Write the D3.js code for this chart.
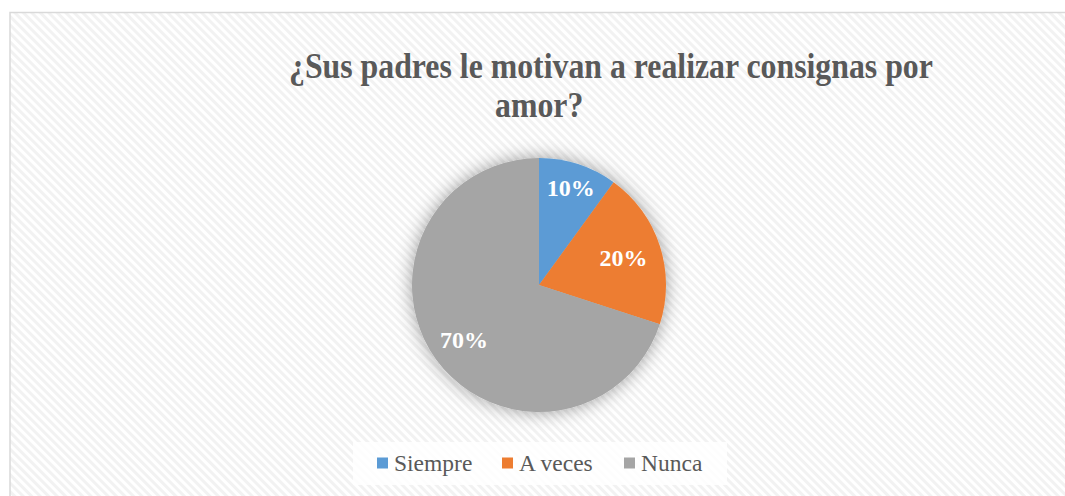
<!DOCTYPE html>
<html>
<head>
<meta charset="utf-8">
<script src="https://cdn.jsdelivr.net/npm/d3@7"></script>
<style>
  html, body { margin: 0; padding: 0; background: #ffffff; }
  svg { display: block; }
</style>
</head>
<body>
<svg id="chart" width="1065" height="496"></svg>
<script>
// ---- data ----
const categories = ["Siempre", "A veces", "Nunca"];
const values = [10, 20, 70];
const labels = ["10%", "20%", "70%"];
const colors = ["#5b9bd5", "#ed7d31", "#a5a5a5"];
const titleLines = ["¿Sus padres le motivan a realizar consignas por", "amor?"];

// ---- layout ----
const W = 1065, H = 496;
const cx = 539, cy = 285, R = 127;
const labelRadiusFactor = [0.81, 0.70, 0.73];

const svg = d3.select("#chart");
const defs = svg.append("defs");

const pat = defs.append("pattern")
  .attr("id", "hatch")
  .attr("patternUnits", "userSpaceOnUse")
  .attr("width", 6).attr("height", 6)
  .attr("patternTransform", "rotate(-45)");
pat.append("rect").attr("width", 6).attr("height", 6).attr("fill", "#ffffff");
pat.append("rect").attr("x", 0).attr("y", 0).attr("width", 3).attr("height", 6).attr("fill", "#f2f2f2");

const filt = defs.append("filter").attr("id", "shadow")
  .attr("x", "-30%").attr("y", "-30%").attr("width", "160%").attr("height", "160%");
filt.append("feDropShadow")
  .attr("dx", 0).attr("dy", 0).attr("stdDeviation", 9)
  .attr("flood-color", "#000").attr("flood-opacity", 0.38);

// chart area
svg.append("rect")
  .attr("x", 10).attr("y", 12.5)
  .attr("width", W + 20).attr("height", H + 20)
  .attr("fill", "url(#hatch)")
  .attr("stroke", "#d9d9d9").attr("stroke-width", 1.5);

// title (slightly tall glyphs as in the reference)
const titlePos = [[289, 78], [495, 117]];
titleLines.forEach((t, i) => {
  svg.append("text")
    .attr("transform", `translate(${titlePos[i][0]},${titlePos[i][1]}) scale(1,1.13)`)
    .attr("font-family", "'Liberation Serif', 'Times New Roman', serif")
    .attr("font-weight", "bold")
    .attr("font-size", 31.8)
    .attr("fill", "#595959")
    .text(t);
});

// pie
const pie = d3.pie().sort(null).value(d => d)(values);
const arc = d3.arc().innerRadius(0).outerRadius(R);

const g = svg.append("g").attr("transform", `translate(${cx},${cy})`);
g.append("g").attr("filter", "url(#shadow)")
  .selectAll("path").data(pie).join("path")
  .attr("d", arc)
  .attr("fill", (d, i) => colors[i]);

g.selectAll("text.lbl").data(pie).join("text")
  .attr("class", "lbl")
  .attr("transform", (d, i) => {
    const a = (d.startAngle + d.endAngle) / 2;
    const r = R * labelRadiusFactor[i];
    return `translate(${r * Math.sin(a)},${-r * Math.cos(a)})`;
  })
  .attr("text-anchor", "middle")
  .attr("dy", "0.35em")
  .attr("font-family", "'Liberation Serif', 'Times New Roman', serif")
  .attr("font-weight", "bold")
  .attr("font-size", 24)
  .attr("fill", "#ffffff")
  .text((d, i) => labels[i]);

// legend
svg.append("rect")
  .attr("x", 353).attr("y", 442).attr("width", 374).attr("height", 43)
  .attr("fill", "#ffffff").attr("fill-opacity", 0.85);

const legX = [377, 502, 624];
const leg = svg.append("g");
categories.forEach((c, i) => {
  leg.append("rect")
    .attr("x", legX[i]).attr("y", 457.5).attr("width", 11).attr("height", 11)
    .attr("fill", colors[i]);
  leg.append("text")
    .attr("x", legX[i] + 17).attr("y", 471)
    .attr("font-family", "'Liberation Serif', 'Times New Roman', serif")
    .attr("font-size", 23.5)
    .attr("fill", "#595959")
    .text(c);
});
</script>
</body>
</html>
